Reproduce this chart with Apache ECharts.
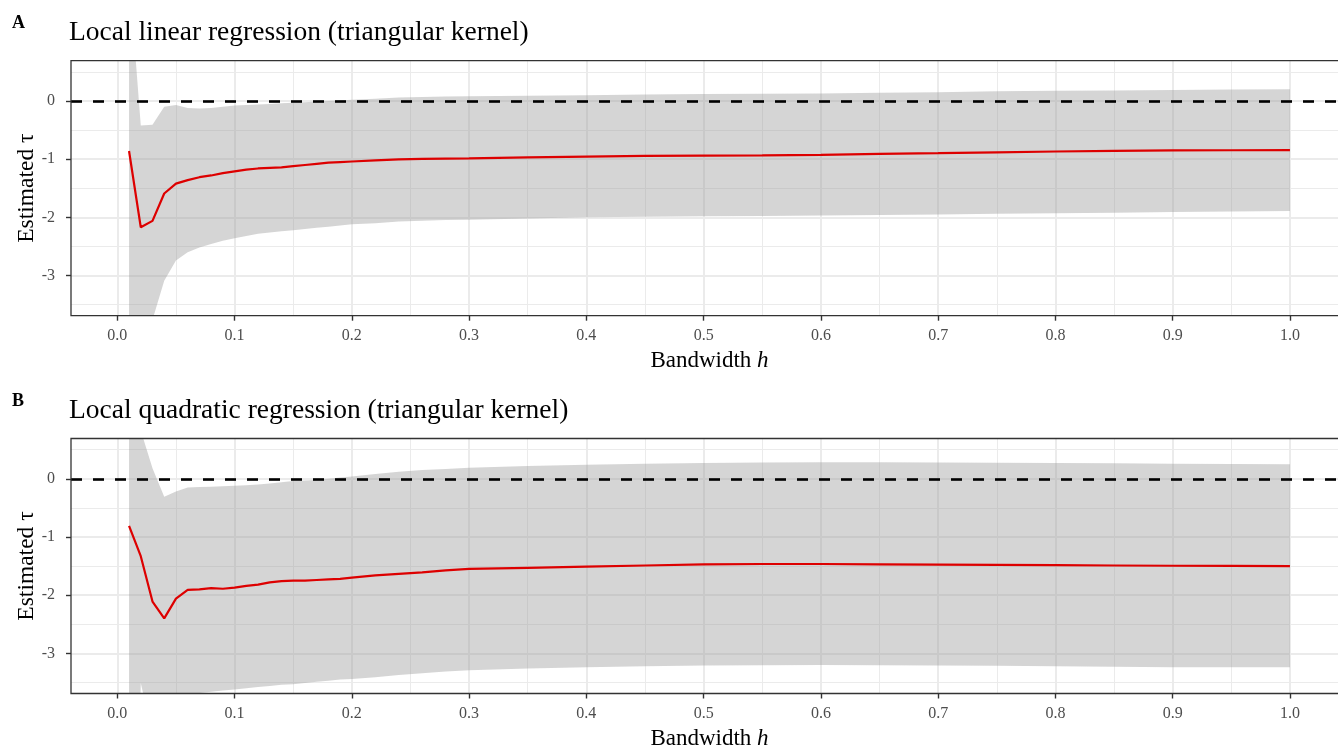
<!DOCTYPE html>
<html>
<head>
<meta charset="utf-8">
<script src="https://cdn.jsdelivr.net/npm/echarts@6/dist/echarts.min.js"></script>
<style>
html,body{margin:0;padding:0;background:#fff;overflow:hidden;}
#chart{width:1338px;height:746px;}
</style>
</head>
<body>
<div id="chart"></div>
<script>
// Bandwidth values h
const hVals = [0.01,0.02,0.03,0.04,0.05,0.06,0.07,0.08,0.09,0.10,
  0.11,0.12,0.13,0.14,0.15,0.16,0.17,0.18,0.19,0.20,
  0.22,0.24,0.26,0.28,0.30,0.35,0.40,0.45,0.50,0.55,
  0.60,0.65,0.70,0.75,0.80,0.85,0.90,0.95,1.00];

// Panel A: local linear regression
const estA = [-0.86,-2.17,-2.06,-1.59,-1.42,-1.36,-1.31,-1.28,-1.24,-1.21,
  -1.18,-1.16,-1.15,-1.14,-1.12,-1.10,-1.08,-1.06,-1.05,-1.04,
  -1.02,-1.005,-0.995,-0.99,-0.985,-0.97,-0.955,-0.945,-0.94,-0.935,
  -0.925,-0.91,-0.897,-0.882,-0.868,-0.858,-0.85,-0.847,-0.845];
const upA = [2.2,-0.42,-0.41,-0.10,-0.07,-0.12,-0.13,-0.12,-0.10,-0.08,
  -0.07,-0.06,-0.05,-0.04,-0.03,-0.02,-0.01,0.0,0.01,0.02,
  0.04,0.06,0.07,0.075,0.08,0.09,0.10,0.11,0.12,0.125,
  0.13,0.14,0.15,0.165,0.175,0.18,0.19,0.195,0.20];
const lowA = [-6,-6,-3.76,-3.09,-2.74,-2.60,-2.52,-2.46,-2.40,-2.36,
  -2.32,-2.28,-2.26,-2.24,-2.22,-2.20,-2.18,-2.16,-2.14,-2.12,
  -2.10,-2.07,-2.06,-2.045,-2.04,-2.02,-2.00,-1.99,-1.98,-1.975,
  -1.97,-1.96,-1.95,-1.94,-1.93,-1.92,-1.91,-1.90,-1.89];

// Panel B: local quadratic regression
const estB = [-0.81,-1.33,-2.11,-2.40,-2.06,-1.91,-1.90,-1.88,-1.89,-1.87,
  -1.84,-1.82,-1.78,-1.76,-1.75,-1.75,-1.74,-1.73,-1.72,-1.70,
  -1.66,-1.635,-1.61,-1.575,-1.55,-1.53,-1.51,-1.49,-1.47,-1.465,
  -1.465,-1.47,-1.475,-1.48,-1.485,-1.49,-1.495,-1.497,-1.50];
const upB = [3.0,0.83,0.18,-0.31,-0.22,-0.15,-0.14,-0.135,-0.13,-0.12,
  -0.11,-0.10,-0.08,-0.06,-0.04,-0.03,-0.02,0.0,0.02,0.04,
  0.08,0.12,0.15,0.17,0.19,0.22,0.24,0.26,0.27,0.28,
  0.285,0.285,0.28,0.275,0.27,0.265,0.26,0.255,0.25];
const lowB = [-12,-3.51,-4.4,-4.2,-3.9,-3.72,-3.68,-3.66,-3.64,-3.62,
  -3.60,-3.58,-3.56,-3.54,-3.53,-3.51,-3.49,-3.47,-3.45,-3.44,
  -3.41,-3.37,-3.34,-3.31,-3.29,-3.26,-3.24,-3.22,-3.21,-3.205,
  -3.20,-3.205,-3.21,-3.215,-3.22,-3.23,-3.24,-3.24,-3.24];

// Ticks / gridlines
const xMajorTicks = [0,0.1,0.2,0.3,0.4,0.5,0.6,0.7,0.8,0.9,1.0];
const xMinorTicks = [0.05,0.15,0.25,0.35,0.45,0.55,0.65,0.75,0.85,0.95];
const yMajorTicks = [0,-1,-2,-3];
const yMinorTicks = [0.5,-0.5,-1.5,-2.5,-3.5];
const refLine = 0;

const panelTags = ['A','B'];
const panelTitles = ['Local linear regression (triangular kernel)','Local quadratic regression (triangular kernel)'];

const FONT = 'Liberation Serif';
const X_MIN = -0.0395, X_MAX = 1.0495, Y_MIN = -3.69, Y_MAX = 0.692;

const gridTops = [60.7, 438.5];
const gridH = 255;

const chart = echarts.init(document.getElementById('chart'), null, {renderer:'canvas'});

const grids = [], xAxes = [], yAxes = [], series = [], titles = [];
const panels = [[estA, upA, lowA],[estB, upB, lowB]];

panels.forEach((p, i) => {
  const [est, up, low] = p;
  grids.push({left: 71, top: gridTops[i], width: 1277, height: gridH,
    outerBoundsMode: 'none', containLabel: false,
    show: true, borderColor: '#333333', borderWidth: 1.3, backgroundColor: 'transparent', z: 10});
  xAxes.push({type:'value', gridIndex:i, min:X_MIN, max:X_MAX, position:'bottom',
    axisLine:{show:false, onZero:false}, splitLine:{show:false},
    axisTick:{show:true, length:5, lineStyle:{color:'#333333', width:1.4}, customValues: xMajorTicks},
    axisLabel:{customValues: xMajorTicks, formatter: v => v.toFixed(1), color:'#4d4d4d', fontFamily:FONT, fontSize:16, margin:12},
    name:'Bandwidth {i|h}', nameLocation:'middle', nameGap:34, nameMoveOverlap:false,
    nameTextStyle:{fontFamily:FONT, fontSize:23, color:'#000',
      rich:{i:{fontFamily:FONT, fontSize:23, fontStyle:'italic', color:'#000'}}}
  });
  yAxes.push({type:'value', gridIndex:i, min:Y_MIN, max:Y_MAX, position:'left',
    axisLine:{show:false, onZero:false}, splitLine:{show:false},
    axisTick:{show:true, length:5, lineStyle:{color:'#333333', width:1.4}, customValues: yMajorTicks},
    axisLabel:{customValues: yMajorTicks, formatter: v => String(v), color:'#4d4d4d', fontFamily:FONT, fontSize:16, margin:16},
    name:'Estimated τ', nameLocation:'middle', nameGap:32, nameMoveOverlap:false,
    nameTextStyle:{fontFamily:FONT, fontSize:23.5, color:'#000'}
  });
  // gridlines
  const gl = [];
  xMinorTicks.forEach(v => gl.push({xAxis:v, lineStyle:{color:'#ebebeb', width:1, type:'solid'}}));
  yMinorTicks.forEach(v => gl.push({yAxis:v, lineStyle:{color:'#ebebeb', width:1, type:'solid'}}));
  xMajorTicks.forEach(v => gl.push({xAxis:v, lineStyle:{color:'#ebebeb', width:2, type:'solid'}}));
  yMajorTicks.forEach(v => gl.push({yAxis:v, lineStyle:{color:'#ebebeb', width:2, type:'solid'}}));
  series.push({type:'line', xAxisIndex:i, yAxisIndex:i, data:[], silent:true, z:1,
    markLine:{silent:true, symbol:['none','none'], label:{show:false}, z:1, animation:false,
      emphasis:{disabled:true}, data: gl}});
  // ribbon (confidence band) as a polygon through the axis scales
  series.push({type:'custom', xAxisIndex:i, yAxisIndex:i, silent:true, z:2, clip:true,
    data: hVals.map((h,k)=>[h, up[k], low[k]]),
    encode:{x:0, y:[1,2]},
    renderItem: function(params, api){
      if (params.dataIndex !== 0) return null;
      const pts = [];
      for (let k = 0; k < hVals.length; k++) pts.push(api.coord([hVals[k], up[k]]));
      for (let k = hVals.length-1; k >= 0; k--) pts.push(api.coord([hVals[k], low[k]]));
      const cs = params.coordSys;
      return {type:'polygon', shape:{points:pts},
        clipPath:{type:'rect', shape:{x:cs.x, y:cs.y, width:cs.width, height:cs.height}},
        style:{fill:'rgba(150,150,150,0.4)'}};
    }});
  // reference dashed line
  series.push({type:'line', xAxisIndex:i, yAxisIndex:i, data:[], silent:true, z:3,
    markLine:{silent:true, symbol:['none','none'], label:{show:false}, z:3, animation:false,
      emphasis:{disabled:true},
      data:[{yAxis:refLine, lineStyle:{color:'#000', width:2.6, type:[11,11]}}]}});
  // estimate
  series.push({type:'line', xAxisIndex:i, yAxisIndex:i, data: hVals.map((h,k)=>[h, est[k]]),
    symbol:'none', silent:true, z:4, lineStyle:{color:'#dd0000', width:2.2}});
  titles.push({text: panelTags[i], left: 12, top: gridTops[i]-46, padding:0,
    textStyle:{fontFamily:FONT, fontSize:18, fontWeight:'bold', color:'#000'}});
  titles.push({text: panelTitles[i], left: 69, top: gridTops[i]-42, padding:0,
    textStyle:{fontFamily:FONT, fontSize:27.5, fontWeight:'normal', color:'#000'}});
});

chart.setOption({
  animation:false,
  backgroundColor:'#ffffff',
  title: titles,
  grid: grids,
  xAxis: xAxes,
  yAxis: yAxes,
  series: series
});
</script>
</body>
</html>
